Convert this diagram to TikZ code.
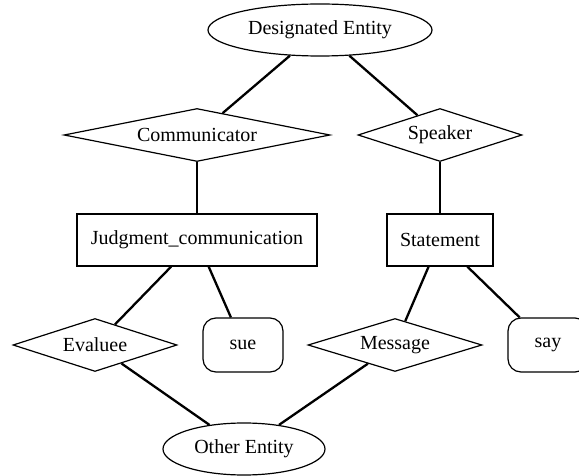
\documentclass[tikz,border=0pt]{standalone}
\usepackage{fontspec}
\setmainfont{Liberation Serif}
\usetikzlibrary{shapes.geometric}
\begin{document}
\begin{tikzpicture}[x=1pt,y=-1pt,
  every node/.style={font=\fontsize{20}{24}\selectfont, inner sep=0pt, line width=1.2pt, draw},
  entity/.style={ellipse, minimum height=52pt},
  role/.style={diamond, minimum height=53pt, shape aspect=4},
  frame/.style={rectangle, minimum height=52pt},
  lexunit/.style={rectangle, rounded corners=13pt, minimum width=80pt, minimum height=54pt},
  link/.style={line width=2.3pt}]
\useasboundingbox (0,0) rectangle (579,476);
% top entity
\node[entity, minimum width=224pt] (de) at (320,30) {Designated Entity};
% roles of the designated entity
\node[role, minimum width=266pt] (comm) at (197,135) {Communicator};
\node[role, minimum width=164pt] (spk) at (440,135) {Speaker};
% frames
\node[frame, minimum width=240pt] (jc) at (197,240) {Judgment\_communication};
\node[frame, minimum width=106pt] (st) at (440,240) {Statement};
% roles of the other entity and lexical units
\node[role, minimum width=164pt] (ev) at (95,345) {Evaluee};
\node[lexunit] (sue) at (243,345) {sue};
\node[role, minimum width=174pt] (msg) at (395,345) {Message};
\node[lexunit] (say) at (548,345) {say};
% bottom entity
\node[entity, minimum width=162pt] (oe) at (244,449) {Other Entity};
% connectors
\draw[link] (de) -- (comm);
\draw[link] (de) -- (spk);
\draw[link] (comm) -- (jc);
\draw[link] (spk) -- (st);
\draw[link] (jc) -- (ev);
\draw[link] (jc) -- (sue);
\draw[link] (st) -- (msg);
\draw[link] (st) -- (say);
\draw[link] (ev) -- (oe);
\draw[link] (msg) -- (oe);
\end{tikzpicture}
\end{document}
